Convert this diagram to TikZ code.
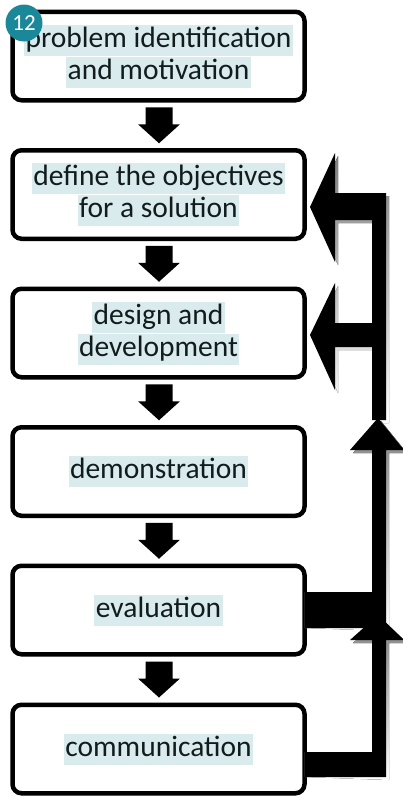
\documentclass[tikz,border=0pt]{standalone}
\usepackage{fontspec}
\setmainfont{Carlito}
\usetikzlibrary{calc}
\definecolor{hl}{RGB}{218,235,238}
\definecolor{ink}{RGB}{18,28,30}
\definecolor{badgeteal}{RGB}{26,136,152}
\definecolor{shade}{RGB}{190,190,190}
% highlighted text line
\newcommand{\hlt}[1]{{\setlength{\fboxsep}{1.5pt}\colorbox{hl}{\rule[-7pt]{0pt}{28pt}#1}}}
% thick feedback arrows on the right
\newcommand{\loopshapes}[1]{%
  \fill[#1] (386,193) -- (335,193) -- (335,153) -- (310,207) -- (335,262) -- (335,220)
    -- (372,220) -- (372,323) -- (335,323) -- (335,283) -- (310,335) -- (335,390)
    -- (335,347) -- (372,347) -- (372,420) -- (386,420) -- cycle;
  \fill[#1] ($(b5.east)+(-2,-18)$) -- (372,592) -- (372,450) -- (350,450) -- (378,418)
    -- (404,450) -- (386,450) -- (386,628) -- ($(b5.east)+(-2,18)$) -- cycle;
  \fill[#1] ($(b6.east)+(-2,3)$) -- (372,752) -- (372,640) -- (350,640) -- (378,615)
    -- (404,640) -- (386,640) -- (386,777) -- ($(b6.east)+(-2,28)$) -- cycle;
}
\tikzset{
  stagebox/.style={draw=black, line width=4.5pt, rounded corners=9pt, fill=white,
    minimum width=292pt, minimum height=88.5pt, inner sep=0pt, align=center,
    font=\fontsize{29.5}{32}\selectfont, text=ink},
  downarrow/.pic={\fill (-13.5,-18) -- (13.5,-18) -- (13.5,-1) -- (21,-1) -- (0,18)
    -- (-21,-1) -- (-13.5,-1) -- cycle;},
  badge/.style={circle, fill=badgeteal, minimum size=37pt, inner sep=0pt, text=white,
    font=\fontsize{23}{23}\selectfont}
}
\begin{document}
\begin{tikzpicture}[x=1pt, y=-1pt]
\useasboundingbox (0,0) rectangle (403,796);
\node[stagebox] (b1) at (158.5,56) {\hlt{problem identification}\\\hlt{and motivation}};
\node[stagebox] (b2) at (158.5,194.5) {\hlt{define the objectives}\\\hlt{for a solution}};
\node[stagebox] (b3) at (158.5,333) {\hlt{design and}\\\hlt{development}};
\node[stagebox] (b4) at (158.5,471.5) {\hlt{demonstration}};
\node[stagebox] (b5) at (158.5,610) {\hlt{evaluation}};
\node[stagebox] (b6) at (158.5,749) {\hlt{communication}};
\foreach \a/\b in {b1/b2, b2/b3, b3/b4, b4/b5, b5/b6}
  \pic at ($(\a.south)!0.5!(\b.north)+(0.5,0)$) {downarrow};
\begin{scope}[shift={(3,3)}]
  \loopshapes{shade}
\end{scope}
\loopshapes{black}
\node[badge] (num) at (24,23) {12};
\end{tikzpicture}
\end{document}
